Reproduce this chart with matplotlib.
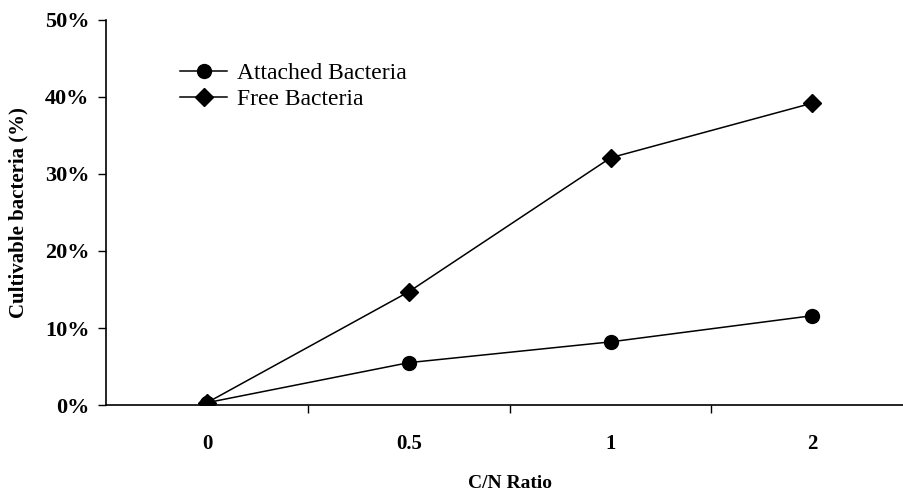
import matplotlib
matplotlib.use("Agg")
import matplotlib.pyplot as plt
from matplotlib.ticker import PercentFormatter

# data
ratios = ["0", "0.5", "1", "2"]
attached = [0.3, 5.5, 8.2, 11.6]
free = [0.3, 14.7, 32.1, 39.2]

plt.rcParams["font.family"] = ["Liberation Serif", "DejaVu Serif"]

fig = plt.figure(figsize=(9.04, 4.98), dpi=100)
ax = fig.add_axes([0.1173, 0.1867, 0.893, 0.7733])

x = list(range(len(ratios)))
ax.plot(x, attached, color="black", lw=1.1, marker="o", ms=10, label="Attached Bacteria")
ax.plot(x, free, color="black", lw=1.1, marker="D", ms=9, label="Free Bacteria")

ax.set_xlim(-0.5, len(ratios) - 0.5)
ax.set_ylim(0, 50)
ax.set_yticks([0, 10, 20, 30, 40, 50])
ax.yaxis.set_major_formatter(PercentFormatter(decimals=0))

# category labels centred, tick marks between categories
ax.set_xticks([0.5, 1.5, 2.5])
ax.set_xticklabels([])
ax.set_xticks(x, minor=True)
ax.set_xticklabels(ratios, minor=True, fontsize=15, fontweight="bold")
ax.tick_params(axis="x", which="minor", length=0, pad=21)
ax.tick_params(axis="x", which="major", length=6, width=1, direction="out")
ax.tick_params(axis="y", length=6, width=1, direction="out", labelsize=16, pad=6)
for lbl in ax.get_yticklabels():
    lbl.set_fontweight("bold")

for side in ["top", "right"]:
    ax.spines[side].set_visible(False)
for side in ["left", "bottom"]:
    ax.spines[side].set_linewidth(1.2)

ax.set_xlabel("C/N Ratio", fontsize=14, fontweight="bold", labelpad=15)
ax.set_ylabel("Cultivable bacteria (%)", fontsize=15, fontweight="bold", labelpad=12)

ax.legend(loc="upper left", bbox_to_anchor=(0.0917, 0.89), frameon=False,
          fontsize=17, handlelength=2.0, handletextpad=0.4, labelspacing=0.2,
          borderaxespad=0, borderpad=0)

fig.savefig("out.png", dpi=100)
